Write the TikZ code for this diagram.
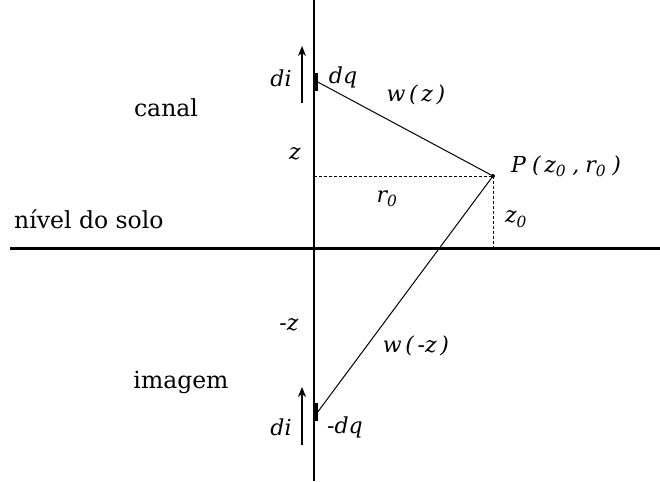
\documentclass[tikz,border=0pt]{standalone}
\usepackage{fontspec}
\setmainfont{DejaVu Serif}
\usetikzlibrary{arrows.meta}
\newcommand\myidx[1]{\textsubscript{\itshape #1}}
\tikzset{
  lbl/.style={inner sep=0pt, font=\fontsize{23.5}{27}\selectfont},
  mlbl/.style={inner sep=0pt, font=\fontsize{22}{26}\selectfont\itshape},
  thin line/.style={line width=1pt},
  dashline/.style={line width=1pt, dash pattern=on 3pt off 2pt},
  curarrow/.style={line width=1.3pt, -{Stealth[length=10pt,width=8pt,inset=3pt]}},
  charge/.style={fill=black, minimum width=5pt, minimum height=18pt, inner sep=0pt, draw=none}
}
\begin{document}
\begin{tikzpicture}[x=1pt,y=-1pt]
\useasboundingbox (0,0) rectangle (660,481);
% axes
\coordinate (axtop) at (314,0);
\coordinate (axbot) at (314,481);
\coordinate (gl) at (10,248);
\coordinate (gr) at (660,248);
\draw[line width=1.5pt] (axtop) -- (axbot);
\draw[line width=3pt] (gl) -- (gr);
% charges
\node[charge] (dq) at (315,82) {};
\node[charge] (mdq) at (315,412) {};
\coordinate (P) at (493,176);
\coordinate (Pax) at (314,176);
\coordinate (Pgr) at (493,248);
\fill (P) circle (2pt);
\draw[thin line] (dq.east) -- (P);
\draw[thin line] (mdq.east) -- (P);
\draw[dashline] (Pax) -- (P);
\draw[dashline] (P) -- (Pgr);
% current arrows
\coordinate (a1s) at (302,103);
\coordinate (a1e) at (302,46);
\coordinate (a2s) at (302,445);
\coordinate (a2e) at (302,387);
\draw[curarrow] (a1s) -- (a1e);
\draw[curarrow] (a2s) -- (a2e);
% labels
\node[lbl] (canal) at (166,108) {canal};
\node[mlbl] (di1) at (281,78) {di};
\node[mlbl] (dql) at (343,77) {dq};
\node[mlbl] (wz) at (416,95) {w\,(\,z\,)};
\node[mlbl] (zl) at (295,154) {z};
\node[mlbl, anchor=west] (Pl) at (511,166) {P\;(\,z\myidx{0}\;,\;r\myidx{0}\;)};
\node[mlbl] (r0) at (387,199) {r\myidx{0}};
\node[mlbl] (z0) at (516,219) {z\myidx{0}};
\node[lbl, anchor=west] (solo) at (14,219) {nível do solo};
\node[mlbl] (mz) at (289,325) {-z};
\node[mlbl] (wmz) at (416,346) {w\,(\,-z\,)};
\node[lbl] (img) at (181,382) {imagem};
\node[mlbl] (di2) at (281,427) {di};
\node[mlbl] (mdql) at (345,427) {-dq};
\end{tikzpicture}
\end{document}
